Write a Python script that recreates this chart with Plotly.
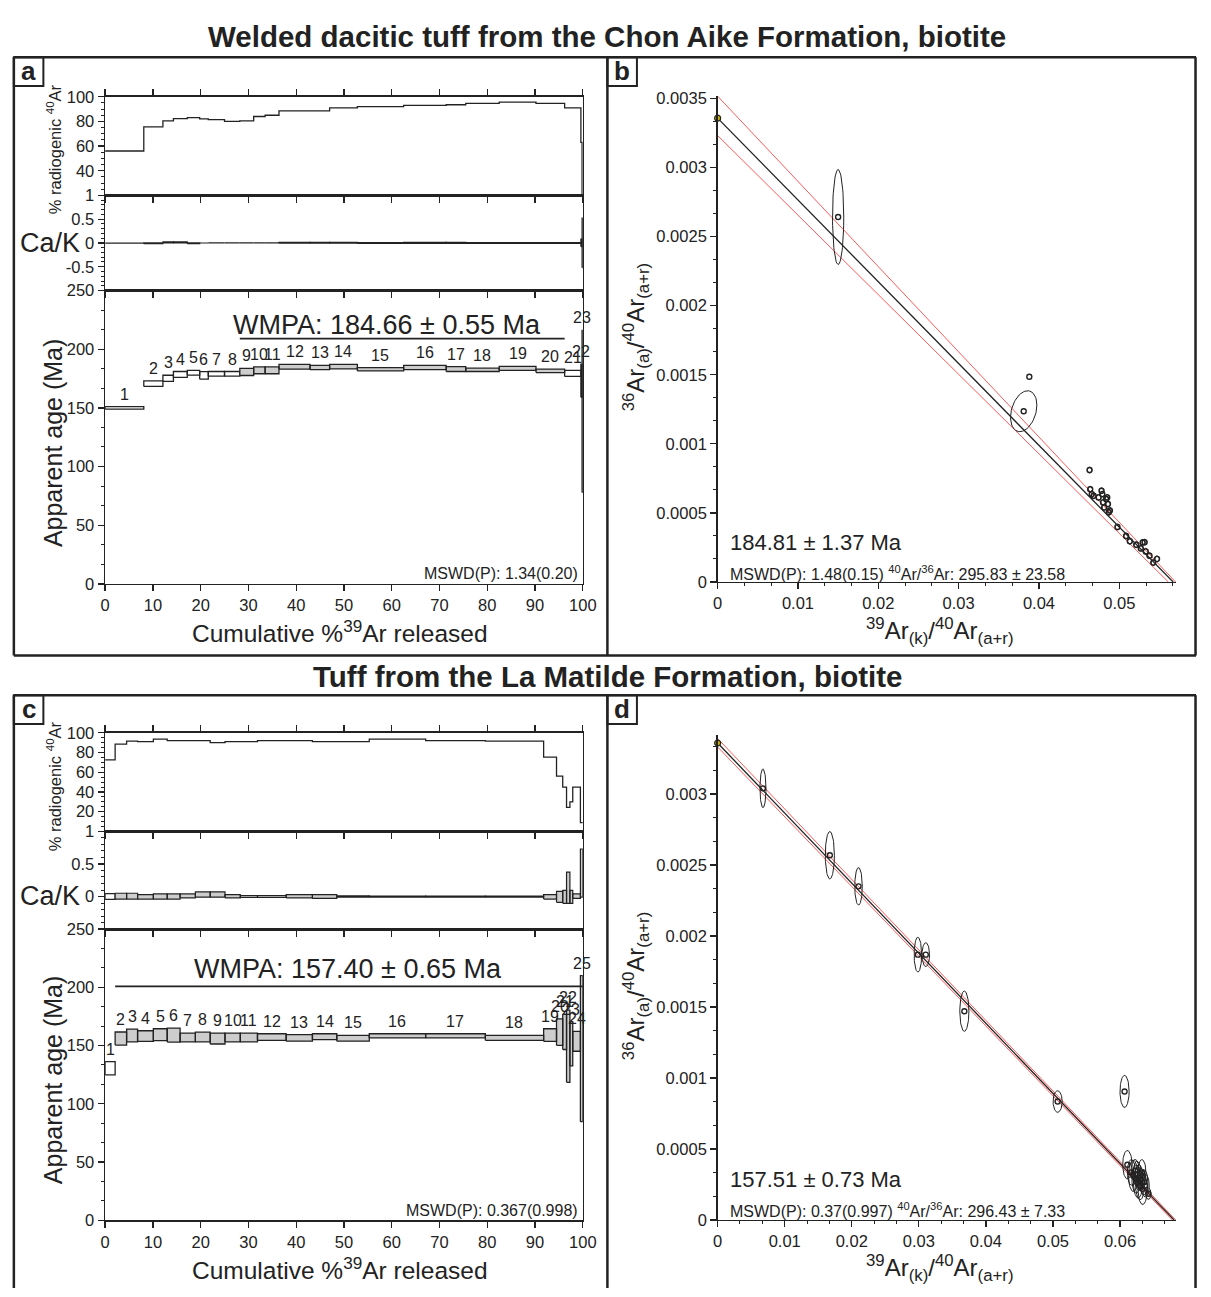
import numpy as np
import plotly.graph_objects as go

W, H = 1211, 1297
FONT = "Liberation Sans, Arial, Helvetica, sans-serif"
INK = "#222222"
GREY = "#cdcdcd"

# ---------------- Panel a : Chon Aike Formation, age spectrum ----------------
cum_a = [0, 8.1, 12.1, 14.3, 17.2, 19.8, 21.6, 25.0, 28.2, 31.1, 33.5, 36.4,
         42.9, 47.0, 52.8, 62.5, 71.4, 75.5, 82.5, 90.2, 96.2, 99.6, 99.85, 100]
age_a = [150.0, 170.7, 175.2, 178.5, 180.0, 177.7, 179.0, 179.0, 180.6, 182.0,
         182.0, 185.0, 184.4, 185.1, 182.9, 184.4, 183.1, 182.4, 183.7, 181.6,
         179.4, 173.0, 147.0]
err_a = [1.0, 2.4, 2.6, 2.5, 2.0, 3.2, 2.0, 2.0, 3.0, 2.9, 2.9, 2.0, 1.8,
         1.9, 1.4, 1.8, 2.1, 1.4, 1.7, 1.5, 2.6, 14.0, 69.0]
plateau_a = [0] * 8 + [1] * 12 + [0] * 3
rad_a = [56, 75.5, 80.5, 82.3, 83, 82, 81.5, 80, 80.5, 84, 85, 88.5, 88.5,
         91, 92, 93, 93.5, 94.6, 95.7, 94.6, 91, 63, 20]
cak_a = [0.0, -0.008, 0.012, 0.012, -0.008, 0.005, 0.006, 0.006, 0.006, 0.006,
         0.006, 0.003, 0.003, 0.003, 0.0, 0.002, 0.002, 0.0, 0.0, 0.0, 0.0, 0.0, 0.0]
cake_a = [0.004, 0.008, 0.01, 0.01, 0.008, 0.006, 0.005, 0.005, 0.005, 0.006,
          0.006, 0.009, 0.009, 0.009, 0.009, 0.009, 0.009, 0.009, 0.009, 0.009,
          0.009, 0.08, 0.52]
wmpa_bar_a = 209
wmpa_text_a = "WMPA: 184.66 ± 0.55 Ma"
mswd_text_a = "MSWD(P): 1.34(0.20)"

# ---------------- Panel c : La Matilde Formation, age spectrum ----------------
cum_c = [0, 2.1, 4.5, 6.8, 10.1, 13.0, 15.7, 18.9, 22.0, 25.1, 28.3, 31.9, 37.9,
         43.4, 48.5, 55.3, 67.1, 79.6, 91.8, 94.5, 95.8, 96.6, 97.3, 97.9, 99.5, 100]
age_c = [130.5, 156.0, 158.6, 158.1, 159.3, 159.0, 156.9, 157.3, 156.0, 156.9,
         156.9, 157.3, 156.5, 157.6, 156.2, 158.3, 158.3, 156.6, 159.0, 161.5,
         161.7, 149.4, 151.5, 153.6, 147.3]
err_c = [5.7, 5.6, 5.5, 4.6, 5.1, 6.0, 3.8, 4.2, 4.7, 3.8, 3.8, 2.8, 2.8, 2.5,
         2.5, 1.8, 1.8, 2.1, 5.4, 11.3, 15.1, 31.0, 19.0, 8.5, 62.7]
plateau_c = [0] + [1] * 24
rad_c = [72.6, 88.6, 91.6, 91, 93.6, 92, 92, 92, 90, 91, 91, 92, 92, 91, 91,
         93.6, 92, 91.6, 75.3, 56, 45, 24.3, 30, 45, 9]
cak_c = [0.0, 0.005, 0.005, -0.005, 0.0, 0.0, 0.01, 0.03, 0.03, 0.005, 0.0, 0.0,
         0.005, 0.0, 0.0, 0.0, 0.0, 0.0, -0.005, -0.005, -0.005, 0.135, -0.005,
         0.005, 0.36]
cake_c = [0.045, 0.045, 0.045, 0.035, 0.04, 0.04, 0.03, 0.04, 0.04, 0.025, 0.015,
          0.015, 0.025, 0.03, 0.01, 0.008, 0.008, 0.008, 0.035, 0.085, 0.1, 0.24,
          0.1, 0.035, 0.37]
wmpa_bar_c = 200.7
wmpa_text_c = "WMPA: 157.40 ± 0.65 Ma"
mswd_text_c = "MSWD(P): 0.367(0.998)"

# ---------------- Panel b : inverse isochron, Chon Aike ----------------
iso_b_x = [0.0150, 0.0381, 0.0388, 0.0463, 0.04638, 0.04657, 0.04681, 0.04742,
           0.04779, 0.04789, 0.04798, 0.04812, 0.04836, 0.0485, 0.04859, 0.04869,
           0.04883, 0.04977, 0.05085, 0.05131, 0.05211, 0.05268, 0.05291, 0.05315,
           0.05329, 0.05376, 0.05423, 0.0547]
iso_b_y = [0.002642, 0.001236, 0.001486, 0.00081, 0.000671, 0.000636, 0.000624,
           0.000612, 0.00066, 0.000636, 0.000576, 0.00054, 0.0006, 0.000612,
           0.000564, 0.000505, 0.000517, 0.000398, 0.000333, 0.000295, 0.000269,
           0.000243, 0.000286, 0.000288, 0.000221, 0.00019, 0.00014, 0.000167]
iso_b_sx = [0.0007, 0.00164, 0.0] + [0.00028] * 25
iso_b_sy = [0.000344, 0.000148, 0.0] + [0.000022] * 25
iso_b_rho = [0.0, 0.3, 0.0] + [0.0] * 25
fit_b = [0.003358, 0.0567]        # [y-intercept, x-intercept]
env_b_hi = [0.003517, 0.0570]
env_b_lo = [0.003232, 0.0561]
age_text_b = "184.81 ± 1.37 Ma"
stat_text_b = "MSWD(P): 1.48(0.15) <sup>40</sup>Ar/<sup>36</sup>Ar: 295.83 ± 23.58"

# ---------------- Panel d : inverse isochron, La Matilde ----------------
iso_d_x = [0.00676, 0.01673, 0.02101, 0.02986, 0.03104, 0.03679, 0.0507, 0.06068,
           0.0611, 0.06169, 0.06197, 0.06225, 0.06242, 0.06254, 0.0627, 0.06282,
           0.06299, 0.0631, 0.06327, 0.06338, 0.06355, 0.06377, 0.06423]
iso_d_y = [0.003039, 0.002568, 0.002349, 0.001868, 0.001868, 0.00147, 0.000834,
           0.000905, 0.000389, 0.000335, 0.000311, 0.000346, 0.000288, 0.000323,
           0.000265, 0.0003, 0.000242, 0.000284, 0.000335, 0.000219, 0.000265,
           0.000242, 0.000185]
iso_d_sx = [0.00045, 0.00068, 0.00056, 0.00056, 0.00056, 0.00068, 0.00068, 0.00068,
            0.0007, 0.0006, 0.0007, 0.0006, 0.00065, 0.0006, 0.0007, 0.0006,
            0.00065, 0.0006, 0.0006, 0.0007, 0.0006, 0.0006, 0.0004]
iso_d_sy = [0.000136, 0.000167, 0.000132, 0.000123, 0.000084, 0.000142, 0.000076,
            0.000113, 0.0001, 0.00009, 0.00011, 0.00008, 0.0001, 0.00009, 0.00011,
            0.00009, 0.0001, 0.00008, 0.00009, 0.00011, 0.00009, 0.00008, 0.00004]
iso_d_rho = [0.0] * 23
fit_d = [0.003358, 0.06806]
env_d_hi = [0.00339, 0.0683]
env_d_lo = [0.00333, 0.0678]
age_text_d = "157.51 ± 0.73 Ma"
stat_text_d = "MSWD(P): 0.37(0.997) <sup>40</sup>Ar/<sup>36</sup>Ar: 296.43 ± 7.33"

titles = ["Welded dacitic tuff from the Chon Aike Formation, biotite",
          "Tuff from the La Matilde Formation, biotite"]


# ------------------------------------------------------------------------
def fx(p):
    return p / W


def fy(p):
    return 1 - p / H


fig = go.Figure()
annotations = []
shapes = []


def boxes(cum, val, err, mask, want):
    xs, ys = [], []
    for i, v in enumerate(val):
        if bool(mask[i]) != want:
            continue
        x0, x1 = cum[i], cum[i + 1]
        lo, hi = v - err[i], v + err[i]
        xs += [x0, x1, x1, x0, x0, None]
        ys += [lo, lo, hi, hi, lo, None]
    return xs, ys


def add_spectrum(ax, cum, rad, cak, cake, age, err, mask, bar_y):
    (xr, yr), (xc, yc), (xa, ya) = ax
    fig.add_trace(go.Scatter(x=cum[:-1] + [cum[-1]], y=rad + [rad[-1]], mode="lines",
                             line=dict(shape="hv", color=INK, width=1.3),
                             xaxis=xr, yaxis=yr, hoverinfo="skip"))
    for want, fill in ((False, "white"), (True, GREY)):
        bx, by = boxes(cum, cak, cake, mask, want)
        if bx:
            fig.add_trace(go.Scatter(x=bx, y=by, mode="lines", fill="toself", fillcolor=fill,
                                     line=dict(color=INK, width=1.2),
                                     xaxis=xc, yaxis=yc, hoverinfo="skip"))
        bx, by = boxes(cum, age, err, mask, want)
        if bx:
            fig.add_trace(go.Scatter(x=bx, y=by, mode="lines", fill="toself", fillcolor=fill,
                                     line=dict(color=INK, width=1.3),
                                     xaxis=xa, yaxis=ya, hoverinfo="skip"))
    idx = [i for i, m in enumerate(mask) if m]
    fig.add_trace(go.Scatter(x=[cum[idx[0]], cum[idx[-1] + 1]], y=[bar_y, bar_y], mode="lines",
                             line=dict(color=INK, width=1.8), xaxis=xa, yaxis=ya,
                             hoverinfo="skip"))
    for i in range(len(age)):
        annotations.append(dict(x=(cum[i] + cum[i + 1]) / 2, y=age[i] + err[i],
                                xref=xa, yref=ya, text=str(i + 1), showarrow=False,
                                yanchor="bottom", yshift=2,
                                font=dict(size=16, color=INK, family=FONT)))


def add_isochron(ax, xs, ys, sxs, sys_, rhos, fit, hi, lo):
    xa, ya = ax
    t = np.linspace(0, 2 * np.pi, 73)
    ex, ey = [], []
    for cx, cy, sx, sy, r in zip(xs, ys, sxs, sys_, rhos):
        if sx <= 0:
            continue
        ex += list(cx + sx * np.cos(t)) + [None]
        ey += list(cy + sy * (r * np.cos(t) + np.sqrt(1 - r * r) * np.sin(t))) + [None]
    for env in (hi, lo):
        fig.add_trace(go.Scatter(x=[0, env[1]], y=[env[0], 0], mode="lines",
                                 line=dict(color="#ff5a5a", width=1),
                                 xaxis=xa, yaxis=ya, hoverinfo="skip"))
    fig.add_trace(go.Scatter(x=[0, fit[1]], y=[fit[0], 0], mode="lines",
                             line=dict(color=INK, width=1.3), xaxis=xa, yaxis=ya,
                             hoverinfo="skip"))
    fig.add_trace(go.Scatter(x=ex, y=ey, mode="lines", line=dict(color=INK, width=1),
                             xaxis=xa, yaxis=ya, hoverinfo="skip"))
    fig.add_trace(go.Scatter(x=xs, y=ys, mode="markers",
                             marker=dict(symbol="circle-open", size=5, color=INK,
                                         line=dict(width=1.4, color=INK)),
                             xaxis=xa, yaxis=ya, hoverinfo="skip"))
    fig.add_trace(go.Scatter(x=[0], y=[fit[0]], mode="markers",
                             marker=dict(symbol="circle", size=6, color="#c9b200",
                                         line=dict(width=1.2, color=INK)),
                             xaxis=xa, yaxis=ya, hoverinfo="skip",
                             cliponaxis=False))


add_spectrum((("x", "y"), ("x2", "y2"), ("x3", "y3")), cum_a, rad_a, cak_a, cake_a,
             age_a, err_a, plateau_a, wmpa_bar_a)
add_spectrum((("x5", "y5"), ("x6", "y6"), ("x7", "y7")), cum_c, rad_c, cak_c, cake_c,
             age_c, err_c, plateau_c, wmpa_bar_c)
add_isochron(("x4", "y4"), iso_b_x, iso_b_y, iso_b_sx, iso_b_sy, iso_b_rho, fit_b,
             env_b_hi, env_b_lo)
add_isochron(("x8", "y8"), iso_d_x, iso_d_y, iso_d_sx, iso_d_sy, iso_d_rho, fit_d,
             env_d_hi, env_d_lo)

# ------------------------------------------------------------------------ axes
TICKF = dict(size=16.5, color=INK, family=FONT)
XDOM = [fx(101.7), fx(587)]


def sx_axis(anchor, labels, mirror):
    return dict(domain=XDOM, anchor=anchor, range=[0, 100], tick0=0, dtick=10,
                showline=True, linecolor=INK, linewidth=1.5, mirror=mirror,
                ticks="outside", ticklen=6, tickwidth=1.3, tickcolor=INK,
                showticklabels=labels, tickfont=TICKF, showgrid=False, zeroline=False,
                fixedrange=True)


def sy_axis(anchor, dom, rng, dtick, minor, alias):
    return dict(domain=dom, anchor=anchor, range=rng, tick0=0, dtick=dtick,
                showline=True, linecolor=INK, linewidth=1.5, mirror=True,
                ticks="outside", ticklen=6, tickwidth=1.3, tickcolor=INK,
                tickfont=TICKF, showgrid=False, zeroline=False, labelalias=alias,
                minor=dict(ticks="outside", ticklen=3, tick0=0, dtick=minor,
                           tickcolor=INK, tickwidth=1, showgrid=False),
                fixedrange=True)


def iso_x(anchor, rng):
    return dict(domain=[fx(724), fx(1190)], anchor=anchor, range=rng, tick0=0, dtick=0.01,
                tickformat="~g", showline=True, linecolor=INK, linewidth=1.5,
                ticks="outside", ticklen=6, tickwidth=1.3, tickcolor=INK, tickfont=TICKF,
                showgrid=False, zeroline=False,
                minor=dict(ticks="outside", ticklen=3, tick0=0, dtick=0.01 / 3,
                           tickcolor=INK, tickwidth=1, showgrid=False),
                fixedrange=True)


def iso_y(anchor, dom, rng):
    return dict(domain=dom, anchor=anchor, range=rng, tick0=0, dtick=0.0005,
                tickformat="~g", showline=True, linecolor=INK, linewidth=1.5,
                ticks="outside", ticklen=6, tickwidth=1.3, tickcolor=INK, tickfont=TICKF,
                showgrid=False, zeroline=False,
                minor=dict(ticks="outside", ticklen=3, tick0=0, dtick=0.0005 / 3,
                           tickcolor=INK, tickwidth=1, showgrid=False),
                fixedrange=True)


layout = dict(
    width=W, height=H, margin=dict(l=0, r=0, t=0, b=0),
    paper_bgcolor="white", plot_bgcolor="rgba(0,0,0,0)", showlegend=False,
    font=dict(family=FONT, color=INK),
    xaxis=sx_axis("y", False, "ticks"),
    yaxis=sy_axis("x", [fy(189), fy(89)], [20, 100], 20, 5, {"20": " "}),
    xaxis2=sx_axis("y2", False, True),
    yaxis2=sy_axis("x2", [fy(285.5), fy(189)], [-1, 1], 0.5, 0.1,
                   {"−1": " ", "−0.5": "-0.5"}),
    xaxis3=sx_axis("y3", True, True),
    yaxis3=sy_axis("x3", [fy(583), fy(285.5)], [0, 250], 50, 50 / 3, {}),
    xaxis5=sx_axis("y5", False, "ticks"),
    yaxis5=sy_axis("x5", [fy(834), fy(734)], [0, 100], 20, 5, {"0": " "}),
    xaxis6=sx_axis("y6", False, True),
    yaxis6=sy_axis("x6", [fy(933), fy(834)], [-0.5, 1], 0.5, 0.1, {"−0.5": " "}),
    xaxis7=sx_axis("y7", True, True),
    yaxis7=sy_axis("x7", [fy(1228.3), fy(933)], [0, 250], 50, 50 / 3, {}),
    xaxis4=iso_x("y4", [0, 0.0571]),
    yaxis4=iso_y("x4", [fy(581), fy(88)], [0, 0.00352]),
    xaxis8=iso_x("y8", [0, 0.0684]),
    yaxis8=iso_y("x8", [fy(1228), fy(736)], [0, 0.003416]),
)


def txt(x, y, text, size, xanchor="center", angle=0, bold=False):
    annotations.append(dict(x=fx(x), y=fy(y), xref="paper", yref="paper", text=text,
                            showarrow=False, xanchor=xanchor, yanchor="middle",
                            textangle=angle,
                            font=dict(size=size, color=INK, family=FONT,
                                      weight="bold" if bold else "normal")))


# titles
txt(612, 28, titles[0], 29.5, bold=True)
txt(612, 677, titles[1], 29.5, bold=True)

# spectrum panels text
for off, wm, wmx, ms in ((0, wmpa_text_a, 388, mswd_text_a),
                         (646, wmpa_text_c, 348, mswd_text_c)):
    txt(50, 142 + off, "% radiogenic <sup>40</sup>Ar", 16.5, angle=-90)
    txt(46, 237 + (0 if off == 0 else 16) + off, "Ca/K", 27)
    txt(49, 440 + off, "Apparent age (Ma)", 25, angle=-90)
    txt(340, 631 + off, "Cumulative %<sup>39</sup>Ar released", 24.5)
    txt(wmx, 320 + off + (8 if off else 0), wm, 27)
    txt(584, 573 + off - 1, ms, 16, xanchor="right")

# isochron panels text
for off, at, st in ((0, age_text_b, stat_text_b), (646, age_text_d, stat_text_d)):
    txt(735, 540 + off + 1, at, 22, xanchor="left")
    txt(735, 572 + off, st, 16, xanchor="left")
    txt(950, 631 + off, "<sup>39</sup>Ar<sub>(k)</sub>/<sup>40</sup>Ar<sub>(a+r)</sub>", 24)
    txt(641, 333 + off + (0 if off == 0 else 12),
        "<sup>36</sup>Ar<sub>(a)</sub>/<sup>40</sup>Ar<sub>(a+r)</sub>", 24, angle=-90)

# panel letters
for lx, ly, letter in ((9, 49, "a"), (612, 49, "b"), (9, 696, "c"), (612, 696, "d")):
    shapes.append(dict(type="rect", xref="paper", yref="paper", x0=fx(lx), x1=fx(lx + 30),
                       y0=fy(ly + 29), y1=fy(ly), line=dict(color=INK, width=2)))
    txt(lx + 15, ly + 14, letter, 26, bold=True)


# frame lines
def line(x0, y0, x1, y1, w=2.5):
    shapes.append(dict(type="line", xref="paper", yref="paper", x0=fx(x0), y0=fy(y0),
                       x1=fx(x1), y1=fy(y1), line=dict(color=INK, width=w)))


line(9, 49, 1210, 49)
line(9, 655.5, 1210, 655.5)
line(9, 696, 1210, 696)
line(612, 49, 612, 655.5)
line(612, 696, 612, H)
line(9, 49, 9, 655.5)
line(9, 696, 9, H)
line(1209.5, 49, 1209.5, 655.5)
line(1209.5, 696, 1209.5, H)

layout["annotations"] = annotations
layout["shapes"] = shapes
fig.update_layout(**layout)

PAGE_CSS = ("var s=document.createElement('style');"
            "s.textContent='html,body{margin:0 !important;padding:0 !important;"
            "overflow:hidden !important;width:1211px;height:1297px;}"
            "body>div{margin:0;padding:0;line-height:0;font-size:0;}"
            ".plotly-graph-div{display:block;}';"
            "document.head.appendChild(s);window.scrollTo(0,0);")
fig.write_html("out.html", config=dict(displayModeBar=False, staticPlot=True),
               post_script=PAGE_CSS)
